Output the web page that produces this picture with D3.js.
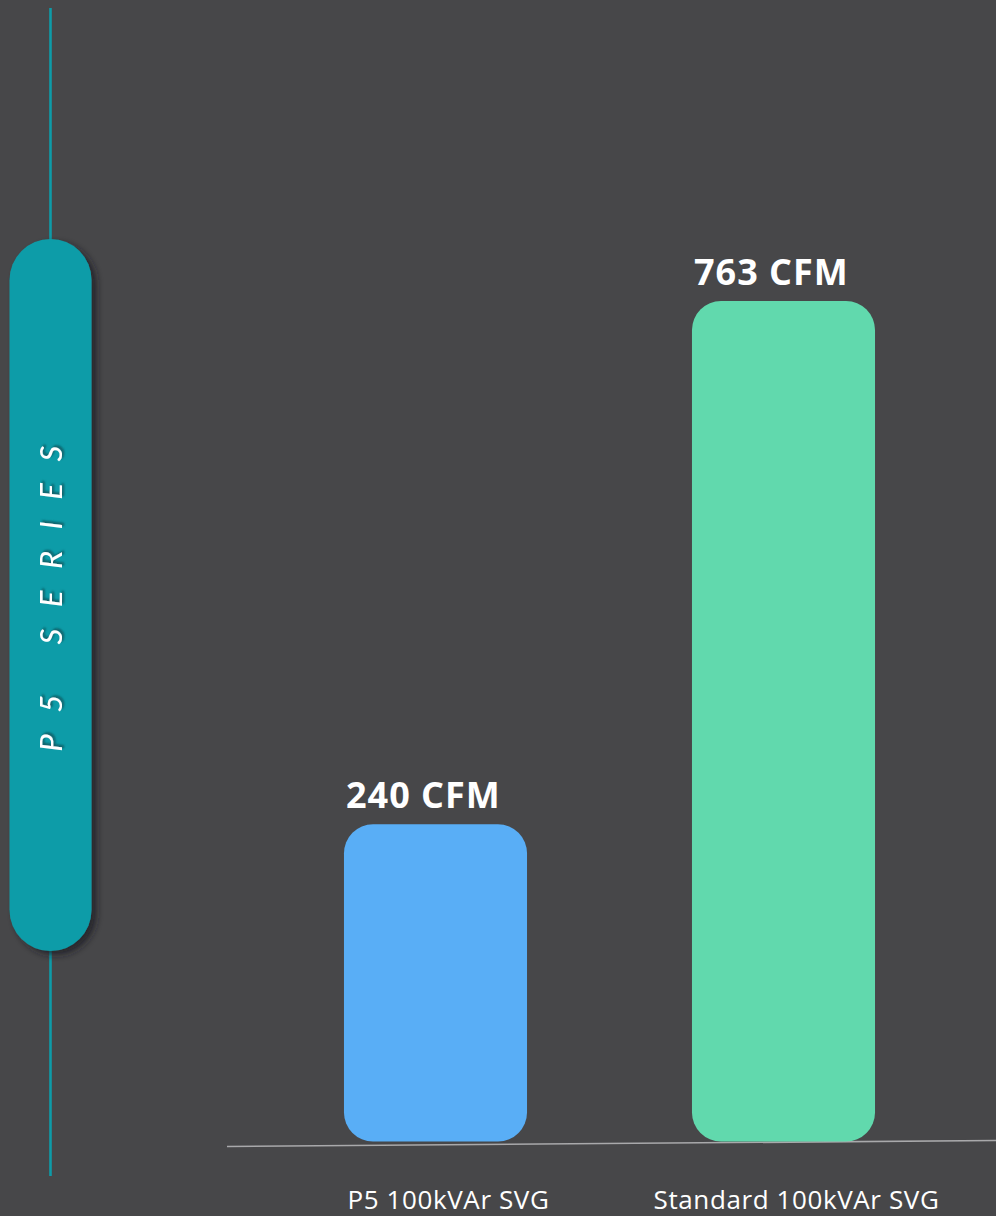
<!DOCTYPE html>
<html>
<head>
<meta charset="utf-8">
<script src="https://cdn.jsdelivr.net/npm/d3@7"></script>
<style>
  html, body { margin: 0; padding: 0; background: #474749; }
  svg { display: block; }
</style>
</head>
<body>
<svg id="chart" width="996" height="1216"></svg>
<script>
const categories = ["P5 100kVAr SVG", "Standard 100kVAr SVG"];
const values = [240, 763];
const valueLabels = ["240 CFM", "763 CFM"];
const barColors = ["#59aef6", "#61d9ad"];
const seriesTitle = "P5 SERIES";
// bars don't start at 0 in the original, baseline sits a bit below zero
const axisFloor = -77;

const width = 996;
const height = 1216;
const svg = d3.select("#chart");

svg.append("rect")
  .attr("width", width)
  .attr("height", height)
  .attr("fill", "#474749");

const defs = svg.append("defs");
const pillShadow = defs.append("filter")
  .attr("id", "pill-shadow")
  .attr("x", "-30%").attr("y", "-10%")
  .attr("width", "170%").attr("height", "130%");
pillShadow.append("feDropShadow")
  .attr("dx", 5).attr("dy", 4)
  .attr("stdDeviation", 3.5)
  .attr("flood-color", "#1e1e20")
  .attr("flood-opacity", 0.75);

const textShadow = defs.append("filter")
  .attr("id", "text-shadow")
  .attr("x", "-20%").attr("y", "-20%")
  .attr("width", "140%").attr("height", "140%");
textShadow.append("feDropShadow")
  .attr("dx", 2).attr("dy", 2)
  .attr("stdDeviation", 1)
  .attr("flood-color", "#0a4e55")
  .attr("flood-opacity", 0.8);

// side decoration: teal line + pill with title
const side = svg.append("g");
side.append("line")
  .attr("x1", 50.5).attr("x2", 50.5)
  .attr("y1", 8).attr("y2", 1176)
  .attr("stroke", "#0e9ba8")
  .attr("stroke-width", 2.6);

side.append("rect")
  .attr("x", 9.5).attr("y", 239)
  .attr("width", 82).attr("height", 712)
  .attr("rx", 41).attr("ry", 41)
  .attr("fill", "#0e9ca8")
  .attr("filter", "url(#pill-shadow)");

// trailing letter-spacing pushes the visual centre, so the anchor sits a bit higher
side.append("text")
  .attr("transform", "translate(50,588) rotate(-90)")
  .attr("text-anchor", "middle")
  .attr("dominant-baseline", "central")
  .attr("fill", "#ffffff")
  .attr("filter", "url(#text-shadow)")
  .style("font-family", "Lato, 'Open Sans', sans-serif")
  .style("font-style", "italic")
  .style("font-weight", 400)
  .style("font-size", "31px")
  .style("letter-spacing", "21.5px")
  .text(seriesTitle);

// scales
const x = d3.scaleBand()
  .domain(categories)
  .range([261.5, 957.5])
  .paddingInner(0.474)
  .paddingOuter(0.237);

const y = d3.scaleLinear()
  .domain([axisFloor, d3.max(values)])
  .range([1141.5, 301]);

// baseline (slightly tilted in the original)
svg.append("line")
  .attr("x1", 227).attr("y1", 1146.5)
  .attr("x2", 996).attr("y2", 1140.5)
  .attr("stroke", "#a9a9ab")
  .attr("stroke-width", 1.6);

svg.append("g")
  .selectAll("path")
  .data(categories)
  .join("path")
  .attr("fill", (d, i) => barColors[i])
  .attr("d", (d, i) => {
    const x0 = x(d);
    const w = x.bandwidth();
    const top = y(values[i]);
    const bottom = y(axisFloor);
    const r = 29;
    return `M${x0},${top + r}` +
      `A${r},${r} 0 0 1 ${x0 + r},${top}` +
      `H${x0 + w - r}` +
      `A${r},${r} 0 0 1 ${x0 + w},${top + r}` +
      `V${bottom - r}` +
      `A${r},${r} 0 0 1 ${x0 + w - r},${bottom}` +
      `H${x0 + r}` +
      `A${r},${r} 0 0 1 ${x0},${bottom - r}Z`;
  });

svg.append("g")
  .selectAll("text")
  .data(categories)
  .join("text")
  .attr("x", (d) => x(d) + 2)
  .attr("y", (d, i) => y(values[i]) - 16)
  .attr("fill", "#ffffff")
  .style("font-family", "'Open Sans', sans-serif")
  .style("font-weight", 700)
  .style("font-size", "36px")
  .style("letter-spacing", "1px")
  .text((d, i) => valueLabels[i]);

svg.append("g")
  .selectAll("text")
  .data(categories)
  .join("text")
  .attr("x", (d) => x(d) + x.bandwidth() / 2 + 13)
  .attr("y", 1209)
  .attr("text-anchor", "middle")
  .attr("fill", "#ffffff")
  .style("font-family", "'Open Sans', sans-serif")
  .style("font-size", "26px")
  .style("letter-spacing", "0.6px")
  .text((d) => d);
</script>
</body>
</html>
